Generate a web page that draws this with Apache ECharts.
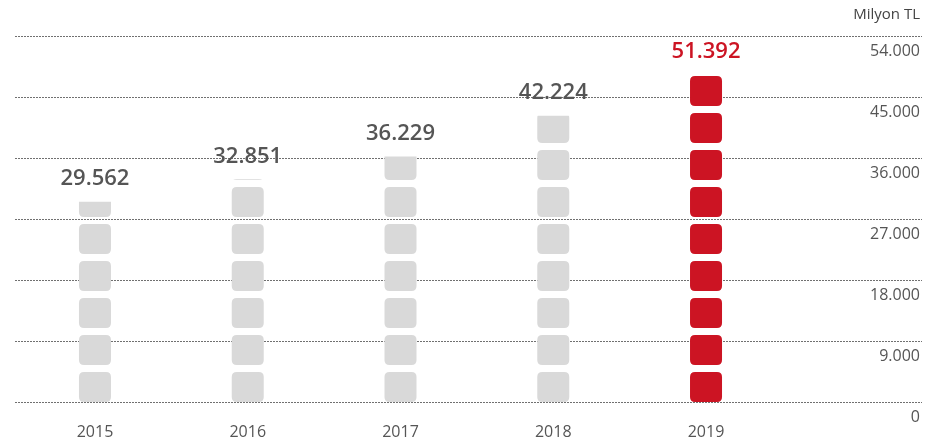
<!DOCTYPE html>
<html>
<head>
<meta charset="utf-8">
<script src="https://cdn.jsdelivr.net/npm/echarts@6/dist/echarts.min.js"></script>
<style>
  html, body { margin: 0; padding: 0; background: #fff; }
  #chart { width: 947px; height: 445px; }
</style>
</head>
<body>
<div id="chart"></div>
<script>
const years = ['2015', '2016', '2017', '2018', '2019'];
const values = [29562, 32851, 36229, 42224, 51392];
const yMin = 0;
const yMax = 54000;
const yStep = 9000;
const unitLabel = 'Milyon TL';

const chart = echarts.init(document.getElementById('chart'));

const FONT = '"Open Sans", "Noto Sans", sans-serif';
const GREY = '#d9d9d9';
const RED = '#cc1423';
const TEXT = '#555';

// turkish style thousands: 51.392
const fmt = (v) => String(v).replace(/\B(?=(\d{3})+(?!\d))/g, '.');

// rounded block 32x30
const block = 'path://M5,0H27Q32,0,32,5V25Q32,30,27,30H5Q0,30,0,25V5Q0,0,5,0Z';

const last = values.length - 1;

// blocks
const blockData = values.map((v, i) =>
    i === last ? {value: v, itemStyle: {color: RED}} : v,
);

// value labels sit on an invisible bar so they follow the value
const labelData = values.map((v, i) =>
    i === last ? {value: v, label: {color: RED, offset: [0, 21]}} : v,
);

const option = {
    animation: false,
    textStyle: {fontFamily: FONT},
    title: {
        text: unitLabel,
        right: 27,
        top: 7,
        padding: 0,
        textStyle: {fontFamily: FONT, fontSize: 15, fontWeight: 'normal', color: '#444'},
    },
    grid: [
        // grid lines + right axis
        {left: 15, right: 25, top: 36, bottom: 43},
        // bars
        {left: 18.6, right: 164.6, top: 36, bottom: 43},
    ],
    xAxis: [
        {gridIndex: 0, type: 'value', show: false, min: 0, max: 1},
        {
            gridIndex: 1,
            type: 'category',
            data: years,
            axisLine: {show: false},
            axisTick: {show: false},
            axisLabel: {margin: 22, fontSize: 16, color: TEXT, fontFamily: FONT},
        },
    ],
    yAxis: [
        {
            gridIndex: 0,
            type: 'value',
            position: 'right',
            min: yMin,
            max: yMax,
            interval: yStep,
            axisLine: {show: false},
            axisTick: {show: false},
            splitLine: {lineStyle: {color: '#707070', width: 1, type: [2, 1]}},
            axisLabel: {
                inside: true,
                margin: 2,
                verticalAlign: 'top',
                padding: [7, 0, 0, 0],
                fontSize: 16,
                color: TEXT,
                fontFamily: FONT,
                formatter: (v) => fmt(v),
            },
        },
        {gridIndex: 1, type: 'value', show: false, min: yMin, max: yMax},
    ],
    series: [
        {
            type: 'pictorialBar',
            xAxisIndex: 1,
            yAxisIndex: 1,
            data: blockData,
            symbol: block,
            symbolSize: [32, 30],
            symbolRepeat: 'fixed',
            symbolClip: true,
            symbolBoundingData: 48100,
            itemStyle: {color: GREY},
            z: 3,
        },
        {
            type: 'bar',
            xAxisIndex: 1,
            yAxisIndex: 1,
            data: labelData,
            barWidth: 32,
            barGap: '-100%',
            itemStyle: {color: 'rgba(0,0,0,0)'},
            silent: true,
            z: 2,
            label: {
                show: true,
                position: 'top',
                distance: 12,
                fontFamily: FONT,
                fontSize: 22,
                fontWeight: 600,
                color: TEXT,
                formatter: (p) => fmt(p.value),
            },
        },
    ],
};

chart.setOption(option);
</script>
</body>
</html>
